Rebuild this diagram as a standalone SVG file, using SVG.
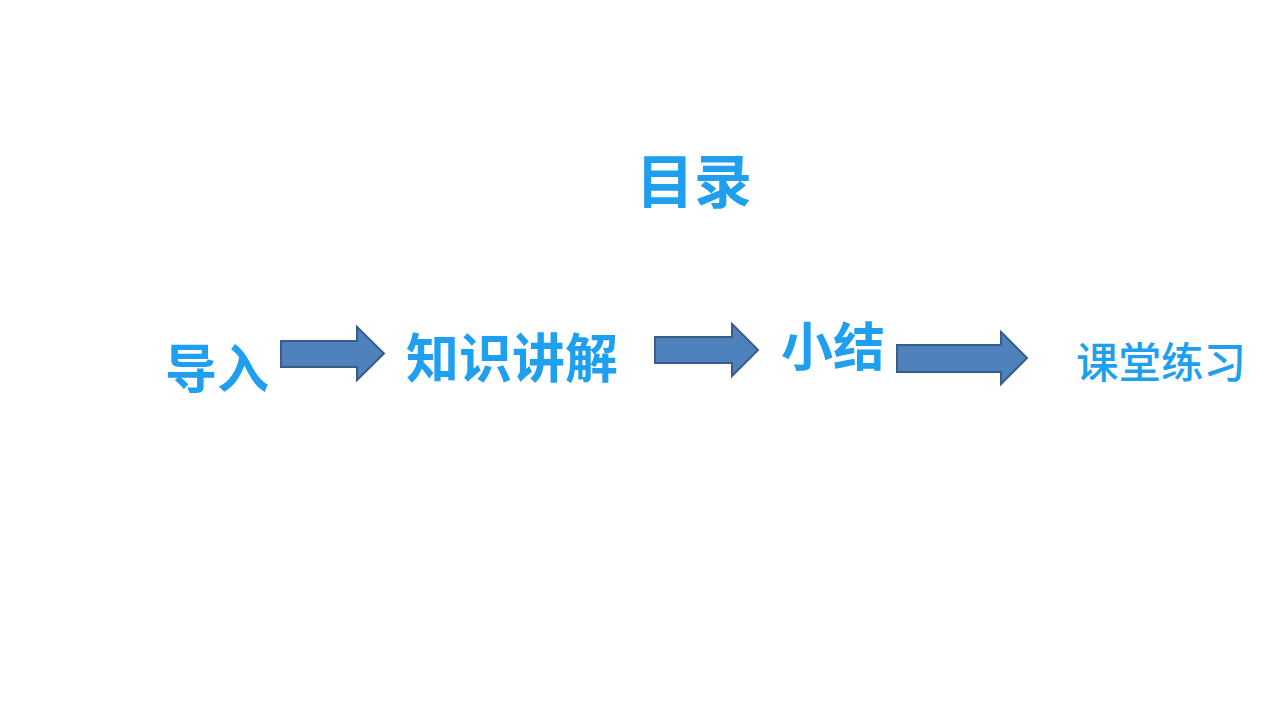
<svg xmlns="http://www.w3.org/2000/svg" width="1280" height="720" viewBox="0 0 1280 720">
<style>
.t{font-family:"Noto Sans CJK SC","Noto Sans",sans-serif;fill:#1F9FEF;font-weight:bold}
.n{font-weight:500}
.a{fill:#4F81BD;stroke:#385D8A;stroke-width:2;stroke-linejoin:miter}
</style>
<rect width="1280" height="720" fill="#fff"/>
<g id="title"><text class="t" x="694" y="203" font-size="58" text-anchor="middle">目录</text></g>
<g id="n1"><text class="t" x="165" y="388" font-size="52">导入</text></g>
<g id="n2"><text class="t" x="406" y="378" font-size="53">知识讲解</text></g>
<g id="n3"><text class="t" x="781" y="366" font-size="52">小结</text></g>
<g id="n4"><text class="t n" x="1076" y="378" font-size="42.5">课堂练习</text></g>
<g id="connectors">
<path class="a" d="M281,341 H357 V327 L384,353.5 L357,380 V367 H281 Z"/>
<path class="a" d="M655,337 H732 V324 L758,350 L732,376 V363 H655 Z"/>
<path class="a" d="M897,345 H1001 V332 L1027,358 L1001,384 V372 H897 Z"/>
</g>
</svg>
